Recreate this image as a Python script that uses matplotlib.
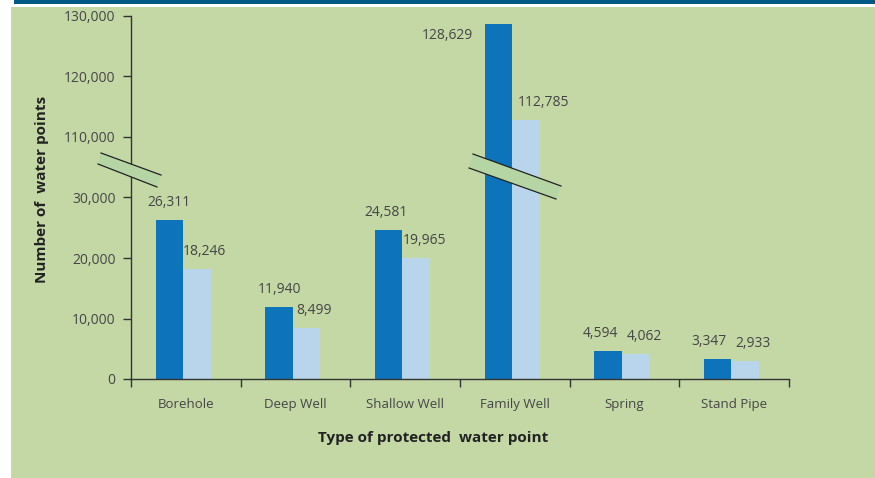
import numpy as np
import matplotlib.pyplot as plt
from matplotlib.patches import Polygon, Rectangle
from matplotlib.lines import Line2D
from matplotlib.ticker import FuncFormatter

categories = ["Borehole", "Deep Well", "Shallow Well", "Family Well", "Spring", "Stand Pipe"]
dark_vals = [26311, 11940, 24581, 128629, 4594, 3347]
light_vals = [18246, 8499, 19965, 112785, 4062, 2933]
yticks = [0, 10000, 20000, 30000, 110000, 120000, 130000]

# label nudges in pixels (x, y) relative to the top centre of each bar
dark_nudge = [(0, 10), (0, 10), (-3, 10), (-51, -11), (-8, 10), (-9, 10)]
light_nudge = [(8, 10), (8, 10), (8, 10), (18, 10), (9, 10), (8, 10)]

W, H = 875, 478
BG = "#c4d8a6"
DARK = "#0d74bb"
LIGHT = "#b8d5ec"
TXT = "#454545"

plt.rcParams["font.family"] = ["Open Sans", "DejaVu Sans"]

# broken axis: 30,000 -> 110,000 squeezed into one 10,000 step
brk_in = [0, 30000, 110000, 140000]
brk_out = [0, 30000, 40000, 70000]


def fwd(v):
    return np.interp(v, brk_in, brk_out)


def inv(v):
    return np.interp(v, brk_out, brk_in)


def px(x, y):
    return (x / W, 1 - y / H)


fig = plt.figure(figsize=(W / 100, H / 100), dpi=100)
fig.patch.set_facecolor("white")
fig.add_artist(Rectangle(px(11, 478), (W - 11) / W, 471 / H, transform=fig.transFigure,
                         facecolor=BG, edgecolor="none", zorder=-10))
fig.add_artist(Rectangle(px(14, 4), (W - 14) / W, 4 / H, transform=fig.transFigure,
                         facecolor="#005a85", edgecolor="none", zorder=-10))

ax = fig.add_axes([131 / W, 1 - 379 / H, (789 - 131) / W, (379 - 16) / H])
ax.set_facecolor("none")
ax.set_yscale("function", functions=(fwd, inv))
ax.set_ylim(0, 130000)
ax.set_xlim(0, 6)

x = np.arange(len(categories)) + 0.475
bw = 0.25
ax.bar(x - bw / 2, dark_vals, bw, color=DARK, zorder=2)
ax.bar(x + bw / 2, light_vals, bw, color=LIGHT, zorder=2)

fs = 10
for i in range(len(categories)):
    dx, dy = dark_nudge[i]
    ax.annotate(f"{dark_vals[i]:,}", (x[i] - bw / 2, dark_vals[i]), xytext=(dx * 0.72, dy * 0.72),
                textcoords="offset points", ha="center", va="bottom" if dy > 0 else "center",
                fontsize=fs, color=TXT)
    dx, dy = light_nudge[i]
    ax.annotate(f"{light_vals[i]:,}", (x[i] + bw / 2, light_vals[i]), xytext=(dx * 0.72, dy * 0.72),
                textcoords="offset points", ha="center", va="bottom", fontsize=fs, color=TXT)

ax.set_yticks(yticks)
ax.yaxis.set_major_formatter(FuncFormatter(lambda v, p: f"{int(v):,}"))
ax.set_xticks(range(7))
ax.set_xticklabels([])
ax.set_xticks(np.arange(6) + 0.5, minor=True)
ax.set_xticklabels(categories, minor=True)
ax.tick_params(axis="x", which="major", length=6, width=1, color="#333333", direction="out")
ax.tick_params(axis="x", which="minor", length=0, pad=14, labelsize=9.5, labelcolor=TXT)
ax.tick_params(axis="y", length=6, width=1, color="#333333", labelsize=fs, labelcolor=TXT, pad=5)

for s in ["top", "right"]:
    ax.spines[s].set_visible(False)
for s in ["left", "bottom"]:
    ax.spines[s].set_color("#333333")
    ax.spines[s].set_linewidth(1)

fig.text(433 / W, 1 - 438 / H, "Type of protected  water point", fontsize=11, fontweight="bold",
         color="#222222", ha="center", va="center")
fig.text(42 / W, 1 - 189 / H, "Number of  water points", rotation=90, fontsize=11, fontweight="bold",
         color="#222222", ha="center", va="center")

# break marks
for pts in ([(101, 153), (161, 175), (157, 187), (98, 164)],
            [(473, 154), (561, 186), (556, 199), (469, 168)]):
    fig.add_artist(Polygon([px(*p) for p in pts], closed=True, transform=fig.transFigure,
                           facecolor="#b5d5a4", edgecolor="none", zorder=5))
    for a, b in ((pts[0], pts[1]), (pts[3], pts[2])):
        fig.add_artist(Line2D([px(*a)[0], px(*b)[0]], [px(*a)[1], px(*b)[1]],
                              transform=fig.transFigure, color="#222222", lw=0.9, zorder=6))

fig.savefig("out.png", dpi=100)
